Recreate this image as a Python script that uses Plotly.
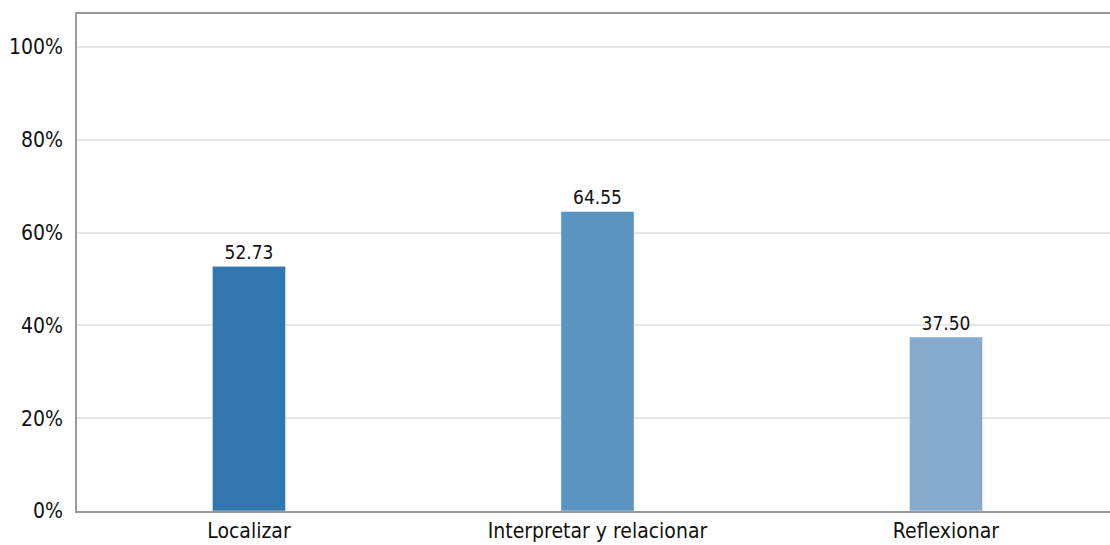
import plotly.graph_objects as go

categories = ["Localizar", "Interpretar y relacionar", "Reflexionar"]
values = [52.73, 64.55, 37.50]
colors = ["#3276ae", "#5b93c1", "#86abcf"]
y_ticks = [0, 20, 40, 60, 80, 100]
y_ticklabels = ["0%", "20%", "40%", "60%", "80%", "100%"]

FONT = "DejaVu Sans Condensed, DejaVu Sans, sans-serif"

fig = go.Figure(go.Bar(
    x=categories,
    y=values,
    width=0.21,
    marker=dict(color=colors, line=dict(color="rgba(255,255,255,0.5)", width=1)),
    text=[f"{v:.2f}" for v in values],
    textposition="outside",
    textfont=dict(family=FONT, size=19, color="#111"),
    cliponaxis=False,
))

fig.update_layout(
    width=1110, height=545,
    margin=dict(l=77, r=0, t=14, b=34, autoexpand=False),
    paper_bgcolor="white", plot_bgcolor="white",
    showlegend=False,
    font=dict(family=FONT, size=21, color="#111"),
    xaxis=dict(
        range=[-0.4935, 2.4706],
        showline=True, linecolor="#999", linewidth=1.5, mirror=True,
        showgrid=False, ticks="", tickfont=dict(size=21), automargin=False,
    ),
    yaxis=dict(
        range=[0, 107.1],
        tickvals=y_ticks, ticktext=y_ticklabels,
        showline=True, linecolor="#999", linewidth=1.5,
        showgrid=True, gridcolor="#e6e6e6", gridwidth=2,
        zeroline=False, ticks="", ticklabelstandoff=8, tickfont=dict(size=21),
        automargin=False,
    ),
)

fig.write_html(
    "out.html",
    config={"displayModeBar": False},
    post_script="document.body.style.margin='0';document.body.style.overflow='hidden';",
)
